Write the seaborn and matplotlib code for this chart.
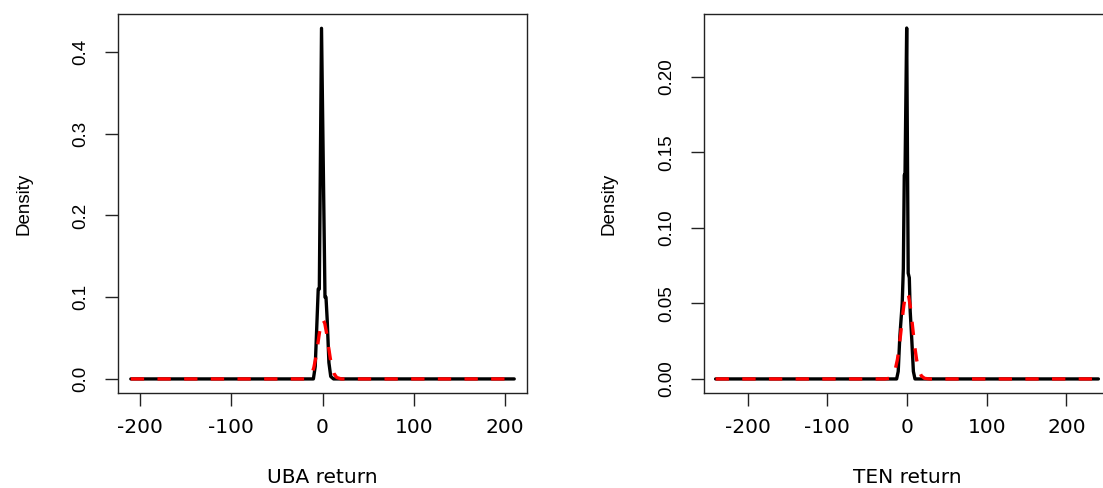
import matplotlib
matplotlib.use("Agg")
import matplotlib.pyplot as plt
import seaborn as sns

uba_x = [-210, -10, -8, -6.6, -4.7, -3.5, -1.1, 2.7, 3.8, 5.1, 7, 9, 12, 210]
uba_y = [0, 0, 0.015, 0.055, 0.11, 0.11, 0.429, 0.10, 0.10, 0.073, 0.02, 0.003, 0, 0]
uba_nx = [-210, -19.5, -14.5, -11.5, -9.5, -7.5, -5.5, -3.5, -1.5, 0.5, 2.5, 4.5,
          6.5, 8.5, 10.5, 12.5, 15.5, 20.5, 210]
uba_ny = [0, 0, 0.0018, 0.0067, 0.0139, 0.0252, 0.040, 0.0557, 0.068, 0.0725, 0.068,
          0.0557, 0.040, 0.0252, 0.0139, 0.0067, 0.0018, 0, 0]

ten_x = [-240, -13, -11, -9, -6, -4.6, -3.4, -2.5, -0.4, 1.5, 2.9, 4, 6, 8, 10, 240]
ten_y = [0, 0, 0.005, 0.028, 0.05, 0.073, 0.135, 0.135, 0.2323, 0.07, 0.067, 0.045,
         0.026, 0.005, 0, 0]
ten_nx = [-240, -28, -22, -18, -15, -12, -10, -8, -6, -4, -2, 0, 2, 4, 6, 8, 10, 12,
          15, 18, 22, 28, 240]
ten_ny = [0, 0, 0.0004, 0.0020, 0.0056, 0.0129, 0.0204, 0.0296, 0.0395, 0.0486, 0.0551,
          0.0574, 0.0551, 0.0486, 0.0395, 0.0296, 0.0204, 0.0129, 0.0056, 0.0020, 0.0004,
          0, 0]

x_ticks = [-200, -100, 0, 100, 200]
uba_yticks = [0.0, 0.1, 0.2, 0.3, 0.4]
uba_ylabels = ["0.0", "0.1", "0.2", "0.3", "0.4"]
ten_yticks = [0.00, 0.05, 0.10, 0.15, 0.20]
ten_ylabels = ["0.00", "0.05", "0.10", "0.15", "0.20"]

sns.set_style("white")
plt.rcParams["font.family"] = ["DejaVu Sans"]
plt.rcParams["text.color"] = "black"
plt.rcParams["axes.labelcolor"] = "black"
plt.rcParams["xtick.color"] = "black"
plt.rcParams["ytick.color"] = "black"

fig = plt.figure(figsize=(11.03, 4.88), dpi=100)
ax1 = fig.add_axes([0.107, 0.1947, 0.3708, 0.7766])
ax2 = fig.add_axes([0.6383, 0.1947, 0.368, 0.7766])

panels = [
    (ax1, uba_x, uba_y, uba_nx, uba_ny, (-224, 224), (-0.0172, 0.4465),
     uba_yticks, uba_ylabels, "UBA return", -0.208),
    (ax2, ten_x, ten_y, ten_nx, ten_ny, (-254.5, 254.5), (-0.0093, 0.2416),
     ten_yticks, ten_ylabels, "TEN return", -0.212),
]

for ax, bx, by, nx, ny, xlim, ylim, yt, yl, xlab, ylx in panels:
    sns.lineplot(x=bx, y=by, ax=ax, color="black", linewidth=2.4, legend=False)
    sns.lineplot(x=nx, y=ny, ax=ax, color="red", linewidth=2.4,
                 linestyle=(0, (4, 4)), legend=False)
    ax.set_xlim(*xlim)
    ax.set_ylim(*ylim)
    for s in ax.spines.values():
        s.set_color("#222222")
        s.set_linewidth(1.0)
    ax.tick_params(axis="both", direction="out", length=9.4, width=1,
                   color="#222222", labelcolor="black", bottom=True, left=True)
    ax.tick_params(axis="x", pad=8.6)
    ax.tick_params(axis="y", pad=11.5)
    ax.set_xticks(x_ticks)
    ax.set_xticklabels([str(t) for t in x_ticks], fontsize=14.5,
                       fontfamily="DejaVu Sans", color="black")
    ax.set_yticks(yt)
    ax.set_yticklabels(yl, rotation=90, va="center", fontsize=13.5,
                       fontfamily="Liberation Sans", color="black")
    ax.set_xlabel(xlab, fontsize=14.5, fontfamily="DejaVu Sans", color="black")
    ax.xaxis.set_label_coords(0.5, -0.198)
    ax.set_ylabel("Density", fontsize=13.5, fontfamily="Liberation Sans",
                  color="black")
    ax.yaxis.set_label_coords(ylx, 0.5)

fig.savefig("out.png", dpi=100)
